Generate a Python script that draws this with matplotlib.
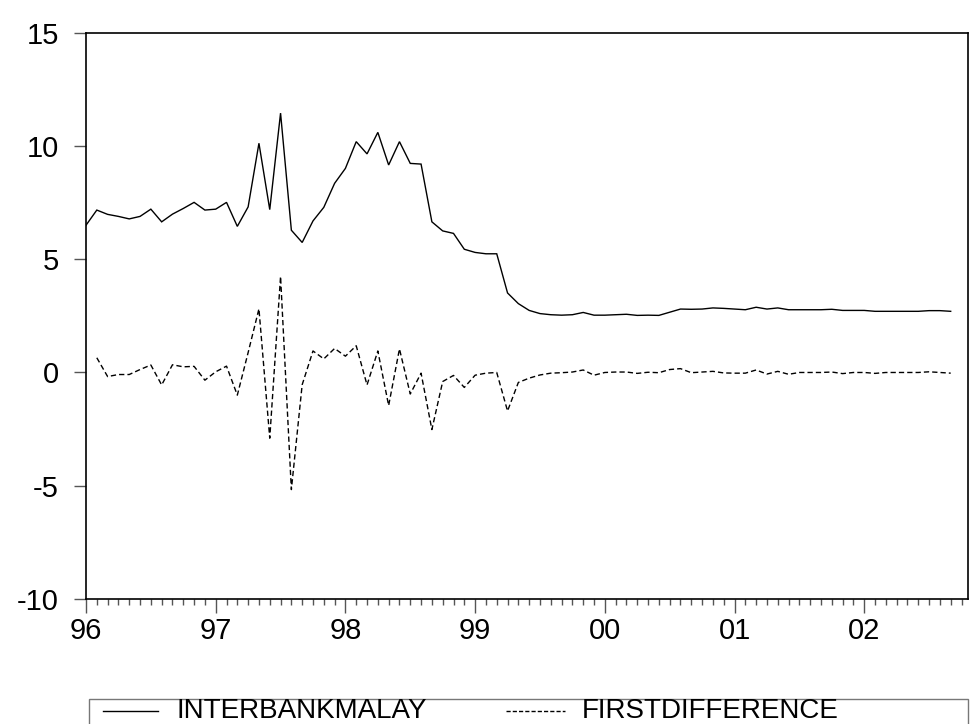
import numpy as np
import matplotlib
matplotlib.use("Agg")
import matplotlib.pyplot as plt
from matplotlib.lines import Line2D
from matplotlib.patches import Rectangle

# Monthly observations, Jan 1996 .. Sep 2002
year_labels = ["96", "97", "98", "99", "00", "01", "02"]

interbank = [6.5, 7.17, 6.98, 6.89, 6.78, 6.89, 7.21, 6.65, 6.99, 7.24, 7.51, 7.17,
             7.21, 7.51, 6.45, 7.31, 10.12, 7.19, 11.45, 6.28, 5.74, 6.69, 7.29, 8.35,
             9.01, 10.19, 9.65, 10.6, 9.16, 10.19, 9.23, 9.2, 6.65, 6.25, 6.14, 5.44,
             5.3, 5.24, 5.24, 3.51, 3.04, 2.74, 2.6, 2.55, 2.53, 2.55, 2.65, 2.53,
             2.53, 2.55, 2.57, 2.52, 2.53, 2.52, 2.66, 2.8, 2.79, 2.8, 2.85, 2.83,
             2.8, 2.77, 2.88, 2.8, 2.85, 2.77, 2.77, 2.77, 2.77, 2.79, 2.74, 2.74,
             2.74, 2.7, 2.7, 2.7, 2.7, 2.7, 2.73, 2.73, 2.7]

first_diff = [np.nan, 0.65, -0.18, -0.09, -0.09, 0.13, 0.33, -0.55, 0.34, 0.25, 0.27, -0.34,
              0.03, 0.28, -1.0, 0.88, 2.81, -2.9, 4.24, -5.17, -0.54, 0.95, 0.6, 1.06,
              0.72, 1.18, -0.55, 0.95, -1.46, 1.04, -0.95, -0.03, -2.52, -0.4, -0.13, -0.66,
              -0.12, -0.03, 0.0, -1.7, -0.44, -0.25, -0.11, -0.03, -0.01, 0.02, 0.11, -0.12,
              0.0, 0.02, 0.02, -0.04, 0.01, -0.01, 0.13, 0.17, -0.01, 0.02, 0.05, -0.02,
              -0.03, -0.03, 0.11, -0.07, 0.05, -0.08, 0.0, 0.0, 0.0, 0.02, -0.05, 0.0,
              0.0, -0.04, 0.0, 0.0, 0.0, 0.0, 0.03, 0.0, -0.03]

y_ticks = [15, 10, 5, 0, -5, -10]
series_names = ["INTERBANKMALAY", "FIRSTDIFFERENCE"]

plt.rcParams['font.family'] = ['Liberation Sans', 'DejaVu Sans']

W, H = 972, 724
fig = plt.figure(figsize=(W / 100, H / 100), dpi=100)
ax = fig.add_axes([86 / W, 1 - 599 / H, (968 - 86) / W, (599 - 32.7) / H])

x = np.arange(len(interbank))
ax.plot(x, interbank, color='black', lw=1.0, solid_joinstyle='miter')
ax.plot(x, first_diff, color='black', lw=1.0, dashes=(3.8, 2.2))

ax.set_xlim(0, 81.6)
ax.set_ylim(-10, 15)

ax.set_yticks(y_ticks)
ax.set_yticklabels([str(v) for v in y_ticks])
ax.set_xticks(np.arange(len(year_labels)) * 12)
ax.set_xticklabels(year_labels)
ax.set_xticks(np.arange(0, 82), minor=True)

ax.tick_params(axis='y', which='major', direction='out', length=8.5, width=1.0,
               color='#555555', labelsize=21, pad=11)
ax.tick_params(axis='x', which='major', direction='out', length=10, width=1.0,
               color='#555555', labelsize=21, pad=3)
ax.tick_params(axis='x', which='minor', direction='out', length=4.5, width=1.0,
               color='#555555')
ax.tick_params(axis='y', which='minor', left=False)

for s in ax.spines.values():
    s.set_linewidth(1.2)
    s.set_color('black')

# Legend box (extends beyond the canvas bottom, as in the reference)
fig.patches.append(Rectangle((89 / W, -0.1), (968 - 89) / W, 1 - 699 / H + 0.1,
                             transform=fig.transFigure, fill=False,
                             edgecolor='#777777', lw=1.0))
ly = 1 - 711 / H
fig.lines.append(Line2D([103 / W, 158 / W], [ly, ly], transform=fig.transFigure,
                        color='black', lw=1.0))
fig.text(176 / W, ly, series_names[0], fontsize=20, va='center', ha='left')
fig.lines.append(Line2D([506 / W, 565 / W], [ly, ly], transform=fig.transFigure,
                        color='black', lw=1.0, dashes=(3.0, 1.5)))
fig.text(582 / W, ly, series_names[1], fontsize=20, va='center', ha='left')

fig.savefig("out.png", dpi=100)
